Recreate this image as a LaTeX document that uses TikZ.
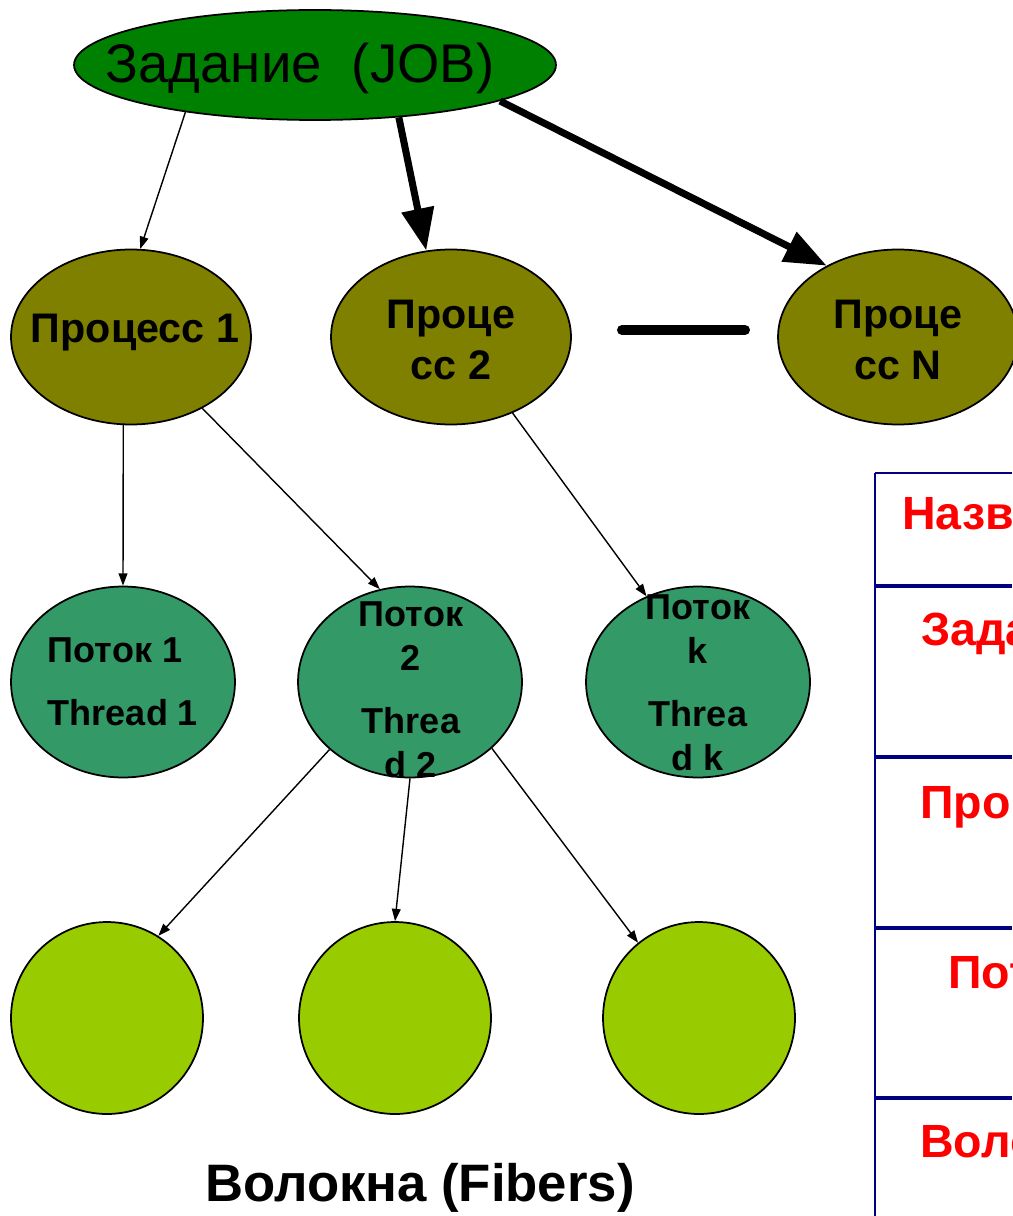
\documentclass[tikz,border=0pt]{standalone}
\usepackage{fontspec}
\setmainfont{Liberation Sans}
\usepackage{tikz}
\usetikzlibrary{shapes.geometric,arrows.meta}
\definecolor{jobgreen}{RGB}{0,128,0}
\definecolor{procolive}{RGB}{128,128,0}
\definecolor{threadgreen}{RGB}{51,153,102}
\definecolor{fiberlime}{RGB}{153,204,0}
\definecolor{tablenavy}{RGB}{0,0,128}

\begin{document}
\begin{tikzpicture}[x = 0.02cm,y = -0.02cm]
		\tikzset{> = {Triangle[length = 7pt,width = 5pt]}}
		\tikzset{
			jobnode/.style = {ellipse,draw,fill = jobgreen,line width = 1pt,minimum width = 9.64cm,minimum height = 2.2cm,inner sep = 0pt},
			procnode/.style = {ellipse,draw,fill = procolive,line width = 1pt,minimum width = 4.8cm,minimum height = 3.5cm,inner sep = 0pt},
			threadnode/.style = {ellipse,draw,fill = threadgreen,line width = 1pt,minimum width = 4.48cm,minimum height = 3.82cm,inner sep = 0pt},
			fibernode/.style = {circle,draw,fill = fiberlime,line width = 1pt,minimum size = 3.84cm,inner sep = 0pt},
			proctext/.style = {font = \bfseries\fontsize{23.5}{28.5}\selectfont,align = center},
			threadtext/.style = {font = \bfseries\fontsize{20.5}{25}\selectfont,align = center},
			tabletext/.style = {anchor = base west,text = red,font = \bfseries\fontsize{26.5}{32}\selectfont,inner sep = 0pt},
			thinarrow/.style = {->,line width = 0.8pt},
			thickarrow/.style = {-{Triangle[length = 24pt,width = 18pt]},line width = 4pt}
		}
		\useasboundingbox (0,0) rectangle (1012,1216);
		\node[jobnode] (job) at (315,65) {};
		\node[font = \fontsize{31}{37}\selectfont] (jobtext) at (300,68) {Задание\ \ (JOB)};
		\node[procnode] (proc1) at (131,337) {};
		\node[procnode] (proc2) at (451,337) {};
		\node[procnode] (procN) at (898,337) {};
		\node[proctext] (proc1text) at (135,333) {Процесс 1};
		\node[proctext] (proc2text) at (451,340) {Проце\\сс 2};
		\node[proctext] (procNtext) at (898,340) {Проце\\сс N};
		\draw[line width = 5.7pt,line cap = round] (622,330) -- (745,330);
		\node[threadnode] (thread1) at (123,682) {};
		\node[threadnode] (thread2) at (410,682) {};
		\node[threadnode] (threadk) at (698,682) {};
		\node[threadtext,align = left] (thread1text) at (123,682) {Поток 1\\[11pt]Thread 1};
		\node[threadtext] (thread2text) at (411,690) {Поток\\2\\[11pt]Threa\\d 2};
		\node[threadtext] (threadktext) at (698,683) {Поток\\k\\[11pt]Threa\\d k};
		\node[fibernode] (fiber1) at (107,1018) {};
		\node[fibernode] (fiber2) at (395,1018) {};
		\node[fibernode] (fiber3) at (699,1018) {};
		\node[font = \bfseries\fontsize{30}{36}\selectfont] (fiberstext) at (420,1188) {Волокна (Fibers)};
		\draw[thinarrow] (job.200) -- (proc1.84);
		\draw[thickarrow] (job.328) -- (proc2.106);
		\draw[thickarrow] (job.349) -- (procN.135);
		\draw[thinarrow] (proc1.265) -- (thread1.90);
		\draw[thinarrow] (proc1.315) -- (thread2.108);
		\draw[thinarrow] (proc2.309) -- (threadk.121);
		\draw[thinarrow] (thread2.220) -- (fiber1.58);
		\draw[thinarrow] (thread2.270) -- (fiber2.90);
		\draw[thinarrow] (thread2.321) -- (fiber3.129);
		\draw[tablenavy,line width = 1.2pt] (875,473) -- (1012,473);
		\draw[tablenavy,line width = 1.2pt] (875,473) -- (875,1216);
		\foreach \y in {586,757,928,1098}
			\draw[tablenavy,line width = 1.8pt] (875,\y) -- (1012,\y);
		\node[tabletext] (namehead) at (902,529) {Назв};
		\node[tabletext] (jobrow) at (921,645) {Зада};
		\node[tabletext] (procrow) at (920,818) {Проц};
		\node[tabletext] (threadrow) at (948,988) {Пот};
		\node[tabletext] (fiberrow) at (920,1157) {Воло};
	\end{tikzpicture}
\end{document}
